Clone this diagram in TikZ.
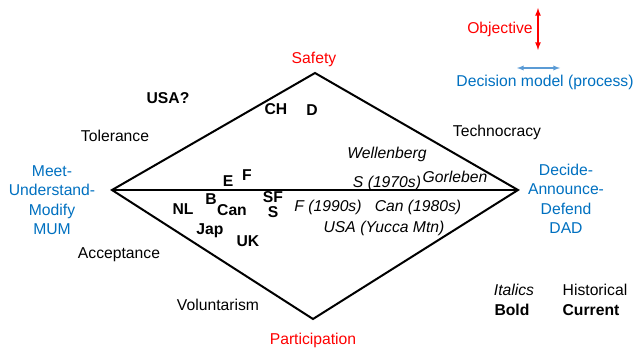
\documentclass[tikz,border=0pt]{standalone}
\usepackage{fontspec}
\setmainfont{Liberation Sans}
\usepackage{xcolor}
\usepackage{tikz}

\definecolor{objred}{RGB}{255,0,0}
\definecolor{procblue}{RGB}{0,112,192}
\definecolor{arrowblue}{RGB}{91,155,213}

\tikzset{
  lbl/.style={font=\fontsize{15.7}{19.5}\selectfont, inner sep=0pt},
  cnt/.style={lbl, font=\fontsize{15.7}{19.5}\selectfont\bfseries},
  hist/.style={lbl, font=\fontsize{15.7}{19.5}\selectfont\itshape},
  obj/.style={lbl, text=objred},
  proc/.style={lbl, text=procblue, align=center},
  edge/.style={line width=2pt, black},
}

\begin{document}
\begin{tikzpicture}[x=1pt, y=-1pt]
        \useasboundingbox (0,0) rectangle (638,350);

        % diamond
        \coordinate (top) at (315,73);
        \coordinate (left) at (112,190);
        \coordinate (right) at (518,190);
        \coordinate (bottom) at (313,319);
        \draw[edge] (top) -- (left) -- (bottom) -- (right) -- cycle;
        \draw[edge] (left) -- (right);

        % objectives
        \node[obj] (safety) at (314,59) {Safety};
        \node[obj] (particip) at (313,340) {Participation};

        % decision models
        \node[proc] (mum) at (52,200) {Meet-\\Understand-\\Modify\\MUM};
        \node[proc] (dad) at (566,199) {Decide-\\Announce-\\Defend\\DAD};

        % approaches
        \node[lbl] (tolerance) at (115,136) {Tolerance};
        \node[lbl] (technocracy) at (497,132) {Technocracy};
        \node[lbl] (acceptance) at (119,255) {Acceptance};
        \node[lbl] (voluntarism) at (218,305) {Voluntarism};

        % current (bold)
        \node[cnt] (usaq) at (168,98) {USA?};
        \node[cnt] (ch) at (276,109) {CH};
        \node[cnt] (d) at (312,110) {D};
        \node[cnt] (e) at (228,181) {E};
        \node[cnt] (f) at (247,175) {F};
        \node[cnt] (nl) at (183,209) {NL};
        \node[cnt] (b) at (211,199) {B};
        \node[cnt] (can) at (232,210) {Can};
        \node[cnt] (sf) at (273,197.5) {SF};
        \node[cnt] (s) at (273,212.5) {S};
        \node[cnt] (jap) at (210,231) {Jap};
        \node[cnt] (uk) at (248,241) {UK};

        % historical (italics)
        \node[hist] (wellenberg) at (387,154) {Wellenberg};
        \node[hist] (s70) at (387,183) {S (1970s)};
        \node[hist] (gorleben) at (455,177) {Gorleben};
        \node[hist] (f90) at (328,207) {F (1990s)};
        \node[hist] (can80) at (418,207) {Can (1980s)};
        \node[hist] (yucca) at (384,228) {USA (Yucca Mtn)};

        % legend
        \node[obj] (objective) at (500,29) {Objective};
        \coordinate (objtop) at (538,8);
        \coordinate (objbot) at (538,50);
        \draw[<->, >=latex, line width=1.6pt, objred] (objtop) -- (objbot);
        \node[proc] (decmodel) at (545,82) {Decision model (process)};
        \coordinate (decl) at (517,68);
        \coordinate (decr) at (560,68);
        \draw[<->, >=latex, line width=1.3pt, arrowblue] (decl) -- (decr);
        \node[hist] (italics) at (514,290) {Italics};
        \node[lbl] (historical) at (595,290) {Historical};
        \node[cnt] (bold) at (512,310) {Bold};
        \node[cnt] (current) at (591,310) {Current};
    \end{tikzpicture}
\end{document}
